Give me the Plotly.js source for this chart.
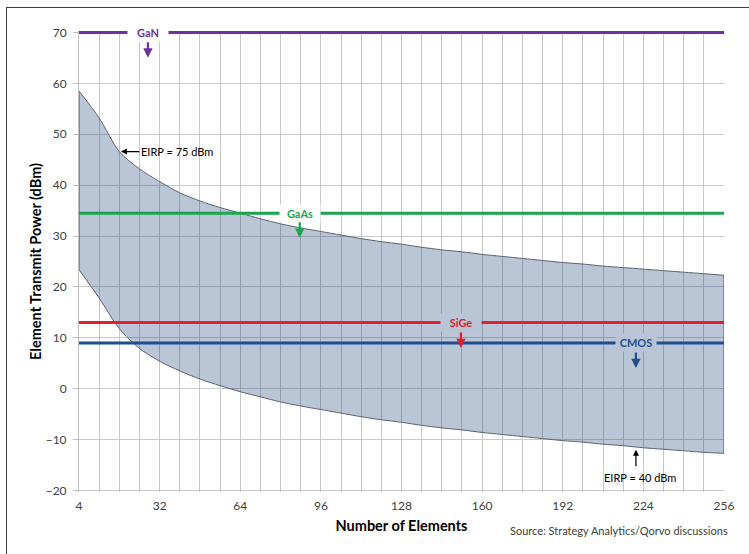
<!DOCTYPE html>
<html>
<head>
<meta charset="utf-8">
<script src="https://cdn.plot.ly/plotly-3.0.1.min.js"></script>
<style>
  html, body { margin: 0; padding: 0; background: #ffffff; }
  #wrap { position: relative; width: 749px; height: 554px; overflow: hidden; }
  #chart { width: 749px; height: 554px; }
  #frame { position: absolute; left: 6px; top: 7px; width: 760px; height: 560px;
           border-left: 1.5px solid #404040; border-top: 1.5px solid #404040; pointer-events: none; }
</style>
</head>
<body>
<div id="wrap">
  <div id="chart"></div>
  <div id="frame"></div>
</div>
<script>
// Number of array elements (category axis)
const elements = ['4','8','16','24','32','40','48','56','64','72','80','88','96','104','112','120',
                  '128','136','144','152','160','168','176','184','192','200','208','216','224','232','240','248','256'];
// Labelled ticks
const tickLabels = ['4','32','64','96','128','160','192','224','256'];

// Element transmit power (dBm) needed for EIRP = 75 dBm (upper edge of band)
const eirp75 = [58.5, 53.2, 46.6, 43.2, 40.7, 38.5, 36.9, 35.6, 34.5, 33.4, 32.4, 31.6, 30.9, 30.2, 29.5, 28.9,
                28.4, 27.8, 27.3, 26.9, 26.4, 26.0, 25.6, 25.2, 24.8, 24.5, 24.1, 23.8, 23.5, 23.2, 22.9, 22.6, 22.3];
// Element transmit power (dBm) needed for EIRP = 40 dBm (lower edge of band)
const eirp40 = [23.4, 17.8, 11.8, 7.9, 5.4, 3.5, 1.9, 0.6, -0.6, -1.6, -2.6, -3.4, -4.1, -4.8, -5.5, -6.1,
                -6.6, -7.2, -7.7, -8.1, -8.6, -9.0, -9.4, -9.8, -10.2, -10.5, -10.9, -11.2, -11.6, -11.9, -12.2, -12.5, -12.7];

// Technology power limits (dBm)
const techNames  = ['GaN', 'GaAs', 'SiGe', 'CMOS'];
const techLevels = [70, 34.5, 13, 9];

const techColors = ['#7030a0', '#1aa64f', '#e0202f', '#1f4e8c'];
const bandFill = 'rgba(0,42,105,0.27)';
const bandComposite = '#b9c5d6';
const outline = '#5a6474';
const FONT = 'Lato, "Open Sans", sans-serif';

const first = elements[0], last = elements[elements.length - 1];

const traces = [];
// lower edge
traces.push({
  type: 'scatter', mode: 'lines', x: elements, y: eirp40,
  line: { color: outline, width: 1, shape: 'spline', smoothing: 0.8 },
  hoverinfo: 'skip', showlegend: false
});
// upper edge, filled down to lower
traces.push({
  type: 'scatter', mode: 'lines', x: elements, y: eirp75,
  fill: 'tonexty', fillcolor: bandFill,
  line: { color: outline, width: 1, shape: 'spline', smoothing: 0.8 },
  hoverinfo: 'skip', showlegend: false
});
// closing edges of band
traces.push({
  type: 'scatter', mode: 'lines', x: [first, first], y: [eirp40[0], eirp75[0]],
  line: { color: outline, width: 1.2 }, hoverinfo: 'skip', showlegend: false
});
traces.push({
  type: 'scatter', mode: 'lines', x: [last, last], y: [eirp40[eirp40.length - 1], eirp75[eirp75.length - 1]],
  line: { color: outline, width: 1.2 }, hoverinfo: 'skip', showlegend: false
});
// technology lines
techNames.forEach((name, i) => {
  traces.push({
    type: 'scatter', mode: 'lines', name: name, x: [first, last], y: [techLevels[i], techLevels[i]],
    line: { color: techColors[i], width: 3 }, hoverinfo: 'skip', showlegend: false
  });
});

// label positions (category index units) and arrow tips
const labelX = [3.42, 10.95, 18.95, 27.63];
const labelBg = ['#ffffff', '#ffffff', bandComposite, bandComposite];
const arrowDrop = [4.95, 4.85, 5.0, 4.95];

const annotations = [];
techNames.forEach((name, i) => {
  annotations.push({
    x: labelX[i], y: techLevels[i], xref: 'x', yref: 'y',
    text: '<b>' + name + '</b>', showarrow: false,
    font: { family: FONT, size: 11, color: techColors[i] },
    bgcolor: labelBg[i], width: 36, height: 13, borderpad: 2
  });
  annotations.push({
    x: labelX[i], y: techLevels[i] - arrowDrop[i], xref: 'x', yref: 'y',
    ax: 0, ay: -17, text: '', showarrow: true,
    arrowhead: 2, arrowsize: 0.85, arrowwidth: 2.2, arrowcolor: techColors[i]
  });
});

// EIRP annotations
annotations.push({
  x: 2.08, y: eirp75[2], xref: 'x', yref: 'y',
  text: 'EIRP = 75 dBm', showarrow: true, ax: 56, ay: 0,
  arrowhead: 2, arrowsize: 1, arrowwidth: 1.2, arrowcolor: '#000000',
  font: { family: FONT, size: 11, color: '#000000' }
});
annotations.push({
  x: 27.63, y: -12.0, xref: 'x', yref: 'y',
  text: '', showarrow: true, ax: 0, ay: 18,
  arrowhead: 2, arrowsize: 1, arrowwidth: 1.2, arrowcolor: '#000000'
});
annotations.push({
  x: 27.83, y: -17.45, xref: 'x', yref: 'y',
  text: 'EIRP = 40 dBm', showarrow: false,
  font: { family: FONT, size: 11, color: '#000000' }
});
// source
annotations.push({
  x: (730 - 79) / 645, y: (492.5 - 531) / 462, xref: 'paper', yref: 'paper',
  xanchor: 'right', yanchor: 'middle',
  text: 'Source: Strategy Analytics/Qorvo discussions', showarrow: false,
  font: { family: FONT, size: 11, color: '#404040' }
});

const layout = {
  width: 749, height: 554,
  margin: { l: 79, r: 25, t: 30.5, b: 61.5 },
  paper_bgcolor: '#ffffff', plot_bgcolor: '#ffffff',
  font: { family: FONT, color: '#404040' },
  showlegend: false,
  xaxis: {
    type: 'category', categoryorder: 'array', categoryarray: elements,
    range: [0, elements.length - 1],
    tickmode: 'array', tickvals: elements,
    ticktext: elements.map(e => tickLabels.includes(e) ? e : ''),
    showgrid: true, gridcolor: '#c8c8c8', gridwidth: 1,
    showline: false,
    ticks: '', ticklabelstandoff: 5,
    tickfont: { family: FONT, size: 12, color: '#404040' },
    title: { text: '<b>Number of Elements</b>', font: { family: FONT, size: 14.5, color: '#000000' }, standoff: 8 },
    zeroline: false, fixedrange: true
  },
  yaxis: {
    range: [-20.3, 70.3], dtick: 10, tick0: 0,
    showgrid: true, gridcolor: '#c8c8c8', gridwidth: 1,
    showline: true, linecolor: '#bfbfbf', linewidth: 1,
    ticks: 'outside', ticklen: 5, tickcolor: '#bfbfbf', ticklabelstandoff: 4,
    tickfont: { family: FONT, size: 12, color: '#404040' },
    title: { text: '<b>Element Transmit Power (dBm)</b>', font: { family: FONT, size: 14.5, color: '#000000' }, standoff: 0 },
    zeroline: false, fixedrange: true
  },
  annotations: annotations
};

Plotly.newPlot('chart', traces, layout, { displayModeBar: false, staticPlot: true });
</script>
</body>
</html>
